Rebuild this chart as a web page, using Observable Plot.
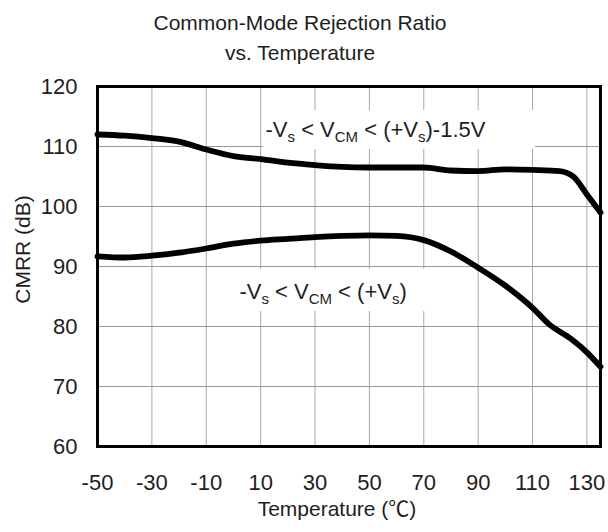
<!DOCTYPE html>
<html>
<head>
<meta charset="utf-8">
<script src="https://cdn.jsdelivr.net/npm/d3@7"></script>
<script src="https://cdn.jsdelivr.net/npm/@observablehq/plot@0.6"></script>
<style>
  html, body { margin: 0; padding: 0; background: #fff; }
  body { width: 608px; height: 532px; overflow: hidden; font-family: "Liberation Sans", Arial, sans-serif; }
  #title { height: 63px; padding-top: 8px; text-align: center; font-size: 21px; line-height: 30px; color: #1e1e1e; padding-right: 8px; }
</style>
</head>
<body>
<div id="title">Common-Mode Rejection Ratio<br>vs. Temperature</div>
<div id="chart"></div>
<script>
// Series A: -Vs < VCM < (+Vs)-1.5V
const tempA = [-50, -40, -30, -20, -10, 0, 10, 20, 30, 40, 50, 60, 70, 80, 90, 100, 110, 120, 125, 130, 135];
const cmrrA = [112.0, 111.8, 111.4, 110.8, 109.5, 108.4, 107.9, 107.3, 106.9, 106.6, 106.5, 106.5, 106.5, 106.0, 105.9, 106.2, 106.1, 105.9, 105.0, 102.0, 99.0];
// Series B: -Vs < VCM < (+Vs)
const tempB = [-50, -40, -30, -20, -10, 0, 10, 20, 30, 40, 50, 60, 70, 80, 90, 100, 110, 116, 124, 130, 135];
const cmrrB = [91.7, 91.5, 91.8, 92.3, 93.0, 93.8, 94.3, 94.6, 94.9, 95.1, 95.2, 95.1, 94.4, 92.5, 89.8, 86.8, 83.1, 80.4, 78.0, 75.7, 73.3];

const xTicks = [-50, -30, -10, 10, 30, 50, 70, 90, 110, 130];
const yTicks = [60, 70, 80, 90, 100, 110, 120];
const xLabel = "Temperature (\u2103)";
const yLabel = "CMRR (dB)";

// Curve annotations: text pieces [string, isSubscript]
const labelParts = [
  [["-V", 0], ["s", 1], [" < V", 0], ["CM", 1], [" < (+V", 0], ["s", 1], [")-1.5V", 0]],
  [["-V", 0], ["s", 1], [" < V", 0], ["CM", 1], [" < (+V", 0], ["s", 1], [")", 0]]
];
const labelX = [11.8, 2.2];
const labelY = [112.8, 85.8];
const boxX1 = [11, 1];
const boxX2 = [111, 73];
const boxY1 = [109.5, 82.5];
const boxY2 = [116, 89.5];

const seriesA = tempA.map((t, i) => ({t, v: cmrrA[i]}));
const seriesB = tempB.map((t, i) => ({t, v: cmrrB[i]}));
const labels = labelParts.map((parts, i) => ({
  text: parts.map(p => p[0]).join(""),
  parts, x: labelX[i], y: labelY[i],
  x1: boxX1[i], x2: boxX2[i], y1: boxY1[i], y2: boxY2[i]
}));

const chart = Plot.plot({
  width: 608,
  height: 462,
  marginTop: 15,
  marginBottom: 87,
  marginLeft: 97,
  marginRight: 8,
  style: { fontFamily: "'Liberation Sans', Arial, sans-serif", fontSize: "22px", color: "#1e1e1e", background: "#fff", overflow: "visible" },
  x: { domain: [-50, 135] },
  y: { domain: [60, 120] },
  marks: [
    Plot.ruleX(xTicks.slice(1), { stroke: "#a8a8a8", strokeWidth: 1 }),
    Plot.ruleY(yTicks.slice(1, -1), { stroke: "#999", strokeWidth: 1 }),
    Plot.rect(labels, { x1: "x1", x2: "x2", y1: "y1", y2: "y2", fill: "white" }),
    Plot.line(seriesA, { x: "t", y: "v", stroke: "black", strokeWidth: 5.8, curve: "monotone-x" }),
    Plot.line(seriesB, { x: "t", y: "v", stroke: "black", strokeWidth: 5.8, curve: "monotone-x" }),
    Plot.text(labels, { x: "x", y: "y", text: "text", textAnchor: "start", lineAnchor: "middle", fontSize: 22, fill: "#1e1e1e" }),
    Plot.frame({ stroke: "black", strokeWidth: 3 }),
    Plot.axisX({ ticks: xTicks, tickSize: 0, tickPadding: 28, tickFormat: d => String(d), label: null, fontSize: 22 }),
    Plot.axisY({ ticks: yTicks, tickSize: 0, tickPadding: 20, tickFormat: d => String(d), label: null, fontSize: 22 }),
    Plot.text([xLabel], { frameAnchor: "bottom", textAnchor: "middle", lineAnchor: "middle", dx: -12, dy: 63, fontSize: 21, fill: "#1e1e1e" }),
    Plot.text([yLabel], { frameAnchor: "left", textAnchor: "middle", lineAnchor: "middle", dx: -74, dy: -17, rotate: -90, fontSize: 21, fill: "#1e1e1e" })
  ]
});
document.getElementById("chart").appendChild(chart);

// Rebuild annotation texts with subscripts
labels.forEach(lab => {
  chart.querySelectorAll("text").forEach(el => {
    if (el.textContent === lab.text) {
      const sel = d3.select(el);
      sel.text(null);
      let shifted = false;
      lab.parts.forEach(([s, sub]) => {
        const ts = sel.append("tspan").text(s);
        if (sub) {
          ts.attr("font-size", "15px");
          if (!shifted) { ts.attr("dy", 5); shifted = true; }
        } else if (shifted) {
          ts.attr("dy", -5); shifted = false;
        }
      });
    }
  });
});
// Full-width degree-Celsius glyph as in the original
chart.querySelectorAll("text").forEach(el => {
  if (el.textContent === xLabel) {
    const sel = d3.select(el);
    sel.text(null);
    sel.append("tspan").text("Temperature (");
    sel.append("tspan").attr("font-family", "'Noto Sans CJK SC', sans-serif").text("\u2103");
    sel.append("tspan").text(")");
  }
});
</script>
</body>
</html>
